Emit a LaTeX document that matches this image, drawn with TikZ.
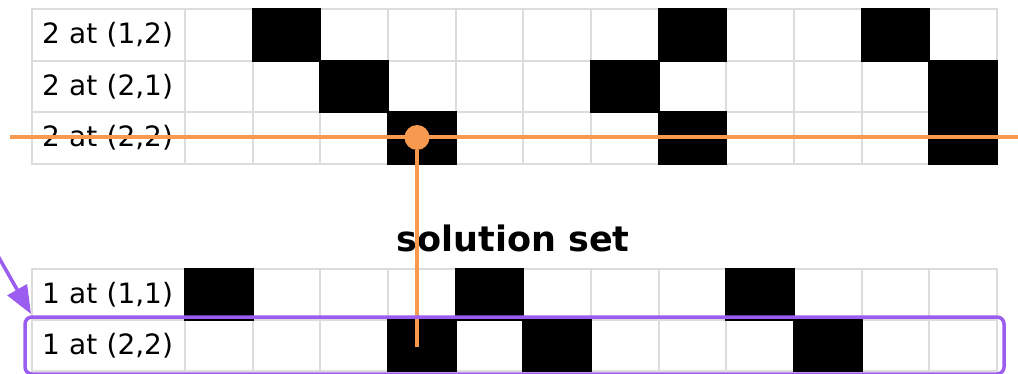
\documentclass[tikz,border=0pt]{standalone}
\usepackage{fontspec}
\setmainfont{DejaVu Sans}
\usetikzlibrary{arrows.meta,fit}
\definecolor{gridgray}{HTML}{DCDCDC}
\definecolor{hitorange}{HTML}{F7994F}
\definecolor{selpurple}{HTML}{9B5CF0}
\tikzset{
  >={Triangle[length=28pt,width=22pt]},
  lbl/.style={draw=gridgray,line width=2pt,anchor=north west,minimum height=51.7pt,text width=133pt,inner xsep=10pt,inner ysep=0pt,align=left,font=\fontsize{28}{30}\selectfont},
  cell/.style={draw=gridgray,line width=2pt,anchor=north west,minimum width=67.67pt,minimum height=51.7pt,inner sep=0pt},
  hit/.style={draw=hitorange,line width=4pt},
  sel/.style={draw=selpurple,line width=3.5pt,rounded corners=7pt},
}
\begin{document}
\begin{tikzpicture}[x=1pt,y=-1pt]
\useasboundingbox (0,0) rectangle (1018,374);
% constraint rows
\foreach \r/\y/\lab in {1/8/{2 at (1,2)},2/59.67/{2 at (2,1)},3/111.33/{2 at (2,2)}}{
  \node[lbl] (t\r) at (31,\y) {\lab};
  \foreach \c in {1,...,12}
    \node[cell] (t\r-\c) at ({184+(\c-1)*67.67},\y) {};
}
\foreach \r/\on in {1/{2,8,11},2/{3,7,12},3/{4,8,12}}
  \foreach \c in \on
    \fill (t\r-\c.north west) rectangle (t\r-\c.south east);
% solution rows
\foreach \r/\y/\lab in {1/268/{1 at (1,1)},2/319/{1 at (2,2)}}{
  \node[lbl,minimum height=51pt] (b\r) at (31,\y) {\lab};
  \foreach \c in {1,...,12}
    \node[cell,minimum height=51pt] (b\r-\c) at ({184+(\c-1)*67.67},\y) {};
}
\foreach \r/\on in {1/{1,5,9},2/{4,6,10}}
  \foreach \c in \on
    \fill (b\r-\c.north west) rectangle (b\r-\c.south east);
\node[anchor=base,font=\bfseries\fontsize{35}{40}\selectfont] (title) at (513,251.5) {solution set};
% covered column
\node[circle,fill=hitorange,inner sep=0pt,minimum size=25pt] (dot) at (417,137.5) {};
\coordinate (hl) at (10,137.5); \coordinate (hr) at (1018,137.5);
\coordinate (vend) at (417,347);
\draw[hit] (hl) -- (hr);
\draw[hit] (dot) -- (vend);
% chosen row
\node[sel,fit=(b2)(b2-12),inner xsep=6pt,inner ysep=2pt] (solbox) {};
\coordinate (ptail) at (-2,256);
\coordinate (ptip) at (31,314);
\draw[->,selpurple,line width=3.5pt] (ptail) -- (ptip);
\end{tikzpicture}
\end{document}
